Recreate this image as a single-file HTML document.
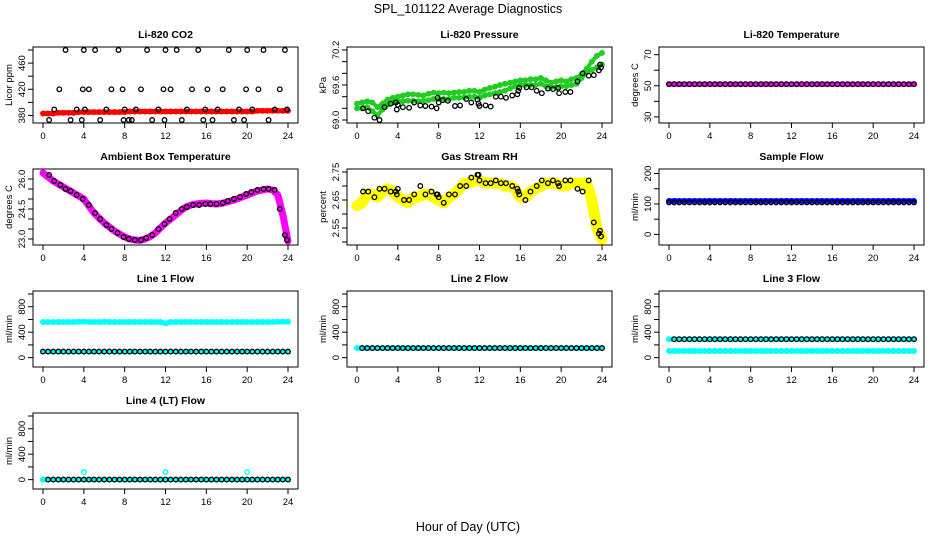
<!DOCTYPE html>
<html><head><meta charset="utf-8"><style>
body{margin:0;background:#fff}
svg{display:block;font-family:"Liberation Sans",Arial,sans-serif}
.t{font-weight:bold;font-size:10.5px}
.k{font-size:9.5px}
</style></head><body>
<svg id="c" width="936" height="540" viewBox="0 0 936 540">
<text x="468" y="13" text-anchor="middle" font-size="12.5">SPL_101122  Average Diagnostics</text>
<text x="468" y="531" text-anchor="middle" font-size="12.5">Hour of Day (UTC)</text>
</svg>
<script>
// ---- data (hour, value) ----
const hoursDense=[0,0.5,1,1.5,2,2.5,3,3.5,4,4.5,5,5.5,6,6.5,7,7.5,8,8.5,9,9.5,10,10.5,11,11.5,12,12.5,13,13.5,14,14.5,15,15.5,16,16.5,17,17.5,18,18.5,19,19.5,20,20.5,21,21.5,22,22.5,23,23.5,24];
const co2Red=[383,383,383,384,384,384,384,385,385,385,385,385,385,385,385,385,385,386,386,386,386,386,386,386,386,386,386,386,386,386,386,386,386,386,386,386,386,386,386,386,386,386,387,387,387,387,387,387,387];
const co2BlackX=[0.6,1.1,1.6,2.2,2.7,3.3,3.8,3.9,4,4.1,4.5,5.1,5.6,6.2,6.7,7.4,7.8,7.9,8,8.4,8.7,9.1,9.6,10.2,10.7,11.3,11.8,11.9,12,12.5,13.1,13.6,14.1,14.6,15.2,15.7,15.9,16.1,16.6,17.1,17.6,18.2,18.7,19.2,19.7,19.9,20,20.5,21.1,21.6,22.1,22.7,23.2,23.7,23.9];
const co2BlackY=[373,389,420,480,373,389,373,420,480,389,420,480,373,389,420,480,420,373,389,373,373,389,420,480,373,389,420,373,480,420,480,373,389,420,480,373,389,420,373,389,420,480,373,389,373,420,480,389,420,480,373,389,420,480,389];
const presUpper=[69.28,69.3,69.32,69.3,69.22,69.28,69.35,69.38,69.4,69.42,69.44,69.44,69.43,69.42,69.45,69.47,69.46,69.47,69.46,69.47,69.48,69.48,69.5,69.5,69.48,69.52,69.55,69.57,69.6,69.62,69.64,69.66,69.68,69.68,69.7,69.7,69.72,69.68,69.64,69.66,69.68,69.66,69.7,69.72,69.78,69.88,70.0,70.1,70.15];
const presLower=[69.2,69.2,69.22,69.15,69.08,69.18,69.26,69.3,69.32,69.32,69.33,69.33,69.32,69.33,69.34,69.36,69.36,69.36,69.36,69.38,69.38,69.39,69.4,69.4,69.38,69.42,69.44,69.46,69.48,69.5,69.54,69.58,69.6,69.6,69.6,69.6,69.62,69.58,69.56,69.56,69.58,69.58,69.6,69.62,69.72,69.82,69.86,69.9,69.95];
const presBlackX=[0.6,1.1,1.7,2.2,2.7,3.3,3.8,3.9,4,4.5,5.1,5.6,6.2,6.7,7.3,7.8,7.9,8,8.4,8.9,9.6,10.1,10.7,11.2,11.8,11.9,12,12.6,13.1,13.6,14.1,14.6,15.2,15.7,15.8,15.9,16.6,17.1,17.6,18.1,18.7,19.2,19.7,19.8,20.4,20.9,21.6,22.1,22.7,23.2,23.7,23.8,23.9];
const presBlackY=[69.2,69.15,69.04,69.0,69.22,69.28,69.3,69.18,69.26,69.22,69.21,69.3,69.25,69.24,69.23,69.2,69.38,69.3,69.34,69.33,69.24,69.25,69.36,69.3,69.35,69.28,69.24,69.25,69.23,69.4,69.4,69.38,69.42,69.44,69.5,69.55,69.56,69.56,69.5,69.46,69.54,69.53,69.55,69.46,69.48,69.48,69.66,69.8,69.76,69.77,69.85,69.95,69.9];
const tempMag=[51,51,51,51,51,51,51,51,51,51,51,51,51,51,51,51,51,51,51,51,51,51,51,51,51,51,51,51,51,51,51,51,51,51,51,51,51,51,51,51,51,51,51,51,51,51,51,51,51];
const ambMag=[26.3,26.1,25.9,25.75,25.6,25.45,25.3,25.15,25.0,24.65,24.3,24.05,23.8,23.6,23.4,23.25,23.1,23.0,22.95,22.93,23.0,23.12,23.3,23.55,23.8,24.0,24.2,24.42,24.6,24.7,24.75,24.78,24.8,24.77,24.75,24.78,24.85,24.92,25.0,25.1,25.2,25.3,25.4,25.45,25.5,25.45,25.2,24.2,22.9];
const ambBlackY=[26.2,25.9,25.7,25.5,25.4,25.2,25.0,24.7,24.3,24.0,23.7,23.5,23.3,23.1,23.0,22.95,22.95,23.05,23.2,23.5,23.75,24.0,24.3,24.5,24.6,24.7,24.7,24.75,24.75,24.75,24.8,24.9,25.0,25.1,25.25,25.35,25.45,25.5,25.5,25.45,24.5,23.2,22.95];
const ambBlackX=[0.6,1.1,1.7,2.2,2.7,3.3,3.9,4.5,5.1,5.6,6.2,6.7,7.3,7.9,8.4,9.0,9.6,10.1,10.7,11.3,11.9,12.4,13.0,13.6,14.1,14.7,15.3,15.9,16.4,17.0,17.6,18.1,18.7,19.3,19.9,20.4,21.0,21.6,22.1,22.7,23.2,23.7,23.9];
const rhYellow=[2.63,2.64,2.67,2.67,2.66,2.68,2.69,2.68,2.66,2.65,2.64,2.66,2.66,2.67,2.67,2.66,2.65,2.64,2.66,2.67,2.69,2.71,2.71,2.72,2.72,2.71,2.71,2.71,2.71,2.7,2.7,2.69,2.66,2.66,2.68,2.69,2.7,2.71,2.71,2.71,2.7,2.7,2.71,2.71,2.71,2.71,2.65,2.55,2.51];
const rhBlackX=[0.6,1.1,1.7,2.2,2.7,3.3,3.8,3.9,4,4.6,5.1,5.6,6.2,6.7,7.3,7.8,7.9,8,8.5,9.0,9.6,10.1,10.7,11.2,11.8,11.9,12,12.6,13.1,13.6,14.1,14.6,15.2,15.7,15.8,15.9,16.5,17.0,17.6,18.1,18.7,19.2,19.7,19.8,20.4,20.9,21.6,22.1,22.7,23.2,23.7,23.8,23.9];
const rhBlackY=[2.68,2.68,2.66,2.69,2.69,2.68,2.68,2.67,2.69,2.65,2.65,2.67,2.7,2.67,2.68,2.67,2.67,2.66,2.64,2.67,2.67,2.7,2.7,2.73,2.74,2.74,2.72,2.71,2.71,2.72,2.71,2.71,2.7,2.69,2.68,2.67,2.65,2.68,2.7,2.72,2.71,2.72,2.71,2.7,2.72,2.72,2.69,2.68,2.72,2.57,2.53,2.54,2.52];
const flowBlue=[110,110,110,110,110,110,110,110,110,110,110,110,110,110,110,110,110,110,110,110,110,110,110,110,110,110,110,110,110,110,110,110,110,110,110,110,110,110,110,110,110,110,110,110,110,110,110,110,110];
const flowBlack=[105,105,105,105,105,105,105,105,105,105,105,105,105,105,105,105,105,105,105,105,105,105,105,105,105,105,105,105,105,105,105,105,105,105,105,105,105,105,105,105,105,105,105,105,105,105,105,105,105];
const line1Cyan=[560,560,560,560,560,560,560,565,565,560,560,560,565,560,560,560,560,560,560,560,560,560,560,560,540,560,560,560,560,560,560,560,560,560,560,560,560,560,560,560,560,560,560,560,560,560,565,565,565];
const line1Black=[95,95,95,95,95,95,95,95,95,95,95,95,95,95,95,95,95,95,95,95,95,95,95,95,95,95,95,95,95,95,95,95,95,95,95,95,95,95,95,95,95,95,95,95,95,95,95,95,95];
const line2Cyan=[150,150,150,150,150,150,150,150,150,150,150,150,150,150,150,150,150,150,150,150,150,150,150,150,150,150,150,150,150,150,150,150,150,150,150,150,150,150,150,150,150,150,150,150,150,150,150,150,150];
const line3Cyan=[105,105,105,105,105,105,105,105,105,105,105,105,105,105,105,105,105,105,105,105,105,105,105,105,105,105,105,105,105,105,105,105,105,105,105,105,105,105,105,105,105,105,105,105,105,105,105,105,105];
const line3Upper=[290,290,290,290,290,290,290,290,290,290,290,290,290,290,290,290,290,290,290,290,290,290,290,290,290,290,290,290,290,290,290,290,290,290,290,290,290,290,290,290,290,290,290,290,290,290,290,290,290];
const line4Cyan=[0,0,0,0,0,0,0,0,120,0,0,0,0,0,0,0,0,0,0,0,0,0,0,0,120,0,0,0,0,0,0,0,0,0,0,0,0,0,0,0,120,0,0,0,0,0,0,0,0];
const xTicks=[0,4,8,12,16,20,24];

const svg=document.getElementById('c');
const NS='http://www.w3.org/2000/svg';
function mk(tag,at,parent){const e=document.createElementNS(NS,tag);for(const k in at)e.setAttribute(k,at[k]);(parent||svg).appendChild(e);return e;}
const colL=[33,347,659], rowT=[47,169,291,413], W=265, H=76;
function panel(col,row,title,ylab,ylim,ticks,labs,series,name){
  const L=colL[col],T=rowT[row];
  const g=mk('g',{});
  
  
  const sx=h=>L+10+(h/24)*(W-20);
  const sy=v=>T+H-3-(v-ylim[0])/(ylim[1]-ylim[0])*(H-6);
  series.forEach(s=>{
    const sg=mk('g',{},g);
    
    
    if(s.band){let d='';s.x.forEach((h,i)=>{d+=(i?'L':'M')+sx(h).toFixed(1)+','+sy(s.y[i]).toFixed(1);});
      mk('path',{d:d,fill:'none',stroke:s.c,'stroke-width':s.band,'stroke-linejoin':'round','stroke-linecap':'round'},sg);}
    s.x.forEach((h,i)=>{const p=mk('circle',{cx:sx(h).toFixed(1),cy:sy(s.y[i]).toFixed(1),r:2.3,fill:'none',stroke:s.c,'stroke-width':1.3},sg);
      
      });
  });
  const b=mk('rect',{x:L,y:T,width:W,height:H,fill:'none',stroke:'#000','stroke-width':1},g);
  
  
  const t=mk('text',{x:L+W/2,y:T-9,'text-anchor':'middle',class:'t'},g);t.textContent=title;
  
  
  xTicks.forEach(h=>{const x=sx(h);mk('line',{x1:x,x2:x,y1:T+H,y2:T+H+5,stroke:'#000'},g);
    const tx=mk('text',{x:x,y:T+H+16,'text-anchor':'middle',class:'k'},g);tx.textContent=h;
    
    });
  ticks.forEach((v,i)=>{const y=sy(v);mk('line',{x1:L,x2:L-5,y1:y,y2:y,stroke:'#000'},g);
    if(labs[i]!==''){const tx=mk('text',{x:L-8,y:y,'text-anchor':'middle',class:'k',transform:`rotate(-90 ${L-8} ${y})`},g);tx.textContent=labs[i];
    
    }});
  const yl=mk('text',{x:L-21,y:T+H/2,'text-anchor':'middle',class:'k',transform:`rotate(-90 ${L-21} ${T+H/2})`},g);yl.textContent=ylab;
  
  
}
const HD=hoursDense;
panel(0,0,'Li-820 CO2','Licor ppm',[373,480],[380,400,420,440,460,480],['380','','420','','460',''],
 [{n:'red',c:'#f00',x:HD,y:co2Red,band:5},{n:'black',c:'#000',x:co2BlackX,y:co2BlackY}],'co2');
panel(1,0,'Li-820 Pressure','kPa',[69.0,70.2],[69.0,69.2,69.4,69.6,69.8,70.0,70.2],['69.0','','','69.6','','','70.2'],
 [{n:'green-upper',c:'#2c2',x:HD,y:presUpper,band:4},{n:'green-lower',c:'#2c2',x:HD,y:presLower,band:4},{n:'black',c:'#000',x:presBlackX,y:presBlackY}],'pressure');
panel(2,0,'Li-820 Temperature','degrees C',[28,73],[30,40,50,60,70],['30','','50','','70'],
 [{n:'magenta',c:'#f0f',x:HD,y:tempMag,band:5},{n:'black',c:'#000',x:HD,y:tempMag}],'temperature');
panel(0,1,'Ambient Box Temperature','degrees C',[22.85,26.35],[23,23.5,24,24.5,25,25.5,26],['23.0','','','24.5','','','26.0'],
 [{n:'magenta',c:'#f0f',x:HD,y:ambMag,band:7},{n:'black',c:'#000',x:ambBlackX,y:ambBlackY}],'ambient');
panel(1,1,'Gas Stream RH','percent',[2.5,2.75],[2.5,2.55,2.6,2.65,2.7,2.75],['','2.55','','2.65','','2.75'],
 [{n:'yellow',c:'#ff0',x:HD,y:rhYellow,band:11},{n:'black',c:'#000',x:rhBlackX,y:rhBlackY}],'rh');
panel(2,1,'Sample Flow','ml/min',[-25,205],[0,50,100,150,200],['0','','100','','200'],
 [{n:'blue',c:'#00f',x:HD,y:flowBlue,band:5},{n:'black',c:'#000',x:HD,y:flowBlack}],'sample-flow');
const lf=[-100,1000],lt=[0,200,400,600,800,1000],ll=['0','','400','','800',''];
panel(0,2,'Line 1 Flow','ml/min',lf,lt,ll,[{n:'cyan',c:'#0ff',x:HD,y:line1Cyan,band:5},{n:'cyan-low',c:'#0ff',x:HD,y:line1Black,band:4},{n:'black',c:'#000',x:HD,y:line1Black}],'line1');
panel(1,2,'Line 2 Flow','ml/min',lf,lt,ll,[{n:'cyan',c:'#0ff',x:HD,y:line2Cyan,band:5},{n:'black',c:'#000',x:HD.slice(1),y:line2Cyan.slice(1)}],'line2');
panel(2,2,'Line 3 Flow','ml/min',lf,lt,ll,[{n:'cyan',c:'#0ff',x:HD,y:line3Cyan,band:5},{n:'cyan-upper',c:'#0ff',x:HD,y:line3Upper,band:5},{n:'black',c:'#000',x:HD.slice(1),y:line3Upper.slice(1)}],'line3');
panel(0,3,'Line 4 (LT) Flow','ml/min',lf,lt,ll,[{n:'cyan',c:'#0ff',x:HD,y:line4Cyan.map(v=>0),band:4},{n:'cyan-spikes',c:'#0ff',x:HD,y:line4Cyan},{n:'black',c:'#000',x:HD.slice(1),y:line4Cyan.slice(1).map(v=>0)}],'line4');
</script>
</body></html>
